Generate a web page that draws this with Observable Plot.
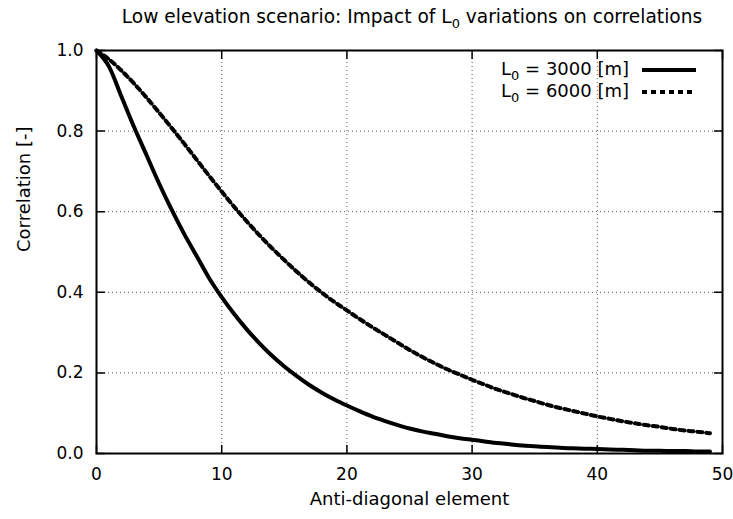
<!DOCTYPE html>
<html>
<head>
<meta charset="utf-8">
<script src="https://cdn.jsdelivr.net/npm/d3@7"></script>
<script src="https://cdn.jsdelivr.net/npm/@observablehq/plot@0.6"></script>
<style>
  html, body { margin: 0; padding: 0; background: #fff; }
  #chart svg { display: block; }
</style>
</head>
<body>
<div id="chart"></div>
<script>
const titleMain = "Low elevation scenario: Impact of L";
const titleSub = "0";
const titleRest = " variations on correlations";
const xLabel = "Anti-diagonal element";
const yLabel = "Correlation [-]";
const seriesNames = ["= 3000 [m]", "= 6000 [m]"];

const elements = [0,1,2,3,4,5,6,7,8,9,10,11,12,13,14,15,16,17,18,19,20,21,22,23,24,25,26,27,28,29,30,31,32,33,34,35,36,37,38,39,40,41,42,43,44,45,46,47,48,49];
const corrL3000 = [1.0,0.96,0.885,0.81,0.74,0.67,0.605,0.545,0.49,0.435,0.388,0.346,0.308,0.274,0.243,0.216,0.192,0.17,0.151,0.134,0.119,0.105,0.092,0.081,0.071,0.062,0.055,0.049,0.043,0.038,0.034,0.030,0.026,0.023,0.020,0.018,0.016,0.014,0.013,0.012,0.011,0.010,0.009,0.008,0.007,0.007,0.006,0.006,0.005,0.005];
const corrL6000 = [1.0,0.978,0.95,0.918,0.883,0.846,0.808,0.769,0.729,0.689,0.65,0.612,0.576,0.542,0.51,0.48,0.451,0.424,0.399,0.376,0.355,0.334,0.314,0.295,0.276,0.257,0.240,0.224,0.209,0.196,0.183,0.171,0.159,0.149,0.139,0.130,0.121,0.113,0.106,0.099,0.092,0.086,0.080,0.075,0.070,0.066,0.061,0.057,0.054,0.050];

const xTicks = [0,10,20,30,40,50];
const yTicks = [0,0.2,0.4,0.6,0.8,1.0];

const d3000 = elements.map((e,i) => ({x: e, y: corrL3000[i]}));
const d6000 = elements.map((e,i) => ({x: e, y: corrL6000[i]}));

const FONT = "DejaVu Sans";
const DASH = "5,4";
const LW = 4;
const tickShape = {draw(context, l) { context.moveTo(0, 0); context.lineTo(0, -l); }};

const chart = Plot.plot({
  width: 733,
  height: 519,
  marginLeft: 96,
  marginRight: 11,
  marginTop: 50,
  marginBottom: 66,
  style: {fontFamily: FONT, fontSize: "17px", color: "#000", background: "#fff"},
  x: {domain: [0, 50]},
  y: {domain: [0, 1]},
  marks: [
    Plot.gridX(xTicks.slice(1, -1), {stroke: "#555", strokeOpacity: 1, strokeDasharray: "1,3"}),
    Plot.gridY(yTicks.slice(1, -1), {stroke: "#555", strokeOpacity: 1, strokeDasharray: "1,3"}),
    Plot.axisX(xTicks, {anchor: "bottom", tickSize: 0, tickPadding: 14, tickFormat: d => String(d), label: null, fontSize: 17}),
    Plot.axisY(yTicks, {anchor: "left", tickSize: 0, tickPadding: 13, tickFormat: d3.format(".1f"), label: null, fontSize: 17}),
    // inward tick marks on all four sides
    Plot.vector(xTicks, {x: d => d, y: 0, length: 8, rotate: 0, anchor: "start", shape: tickShape, stroke: "#000", strokeWidth: 1.5}),
    Plot.vector(xTicks, {x: d => d, y: 1, length: 8, rotate: 180, anchor: "start", shape: tickShape, stroke: "#000", strokeWidth: 1.5}),
    Plot.vector(yTicks, {x: 0, y: d => d, length: 8, rotate: 90, anchor: "start", shape: tickShape, stroke: "#000", strokeWidth: 1.5}),
    Plot.vector(yTicks, {x: 50, y: d => d, length: 8, rotate: -90, anchor: "start", shape: tickShape, stroke: "#000", strokeWidth: 1.5}),
    Plot.text([xLabel], {frameAnchor: "bottom", dy: 51.5, text: d => d, fontSize: 18, fill: "#000"}),
    Plot.text([yLabel], {frameAnchor: "left", dx: -79, rotate: -90, lineAnchor: "top", text: d => d, fontSize: 18, fill: "#000"}),
    Plot.line(d3000, {x: "x", y: "y", stroke: "#000", strokeWidth: LW, curve: "monotone-x"}),
    Plot.line(d6000, {x: "x", y: "y", stroke: "#000", strokeWidth: LW, strokeDasharray: DASH, curve: "monotone-x"}),
    Plot.frame({stroke: "#000", strokeWidth: 2})
  ]
});

document.getElementById("chart").appendChild(chart);

// Title and legend with subscripts
const svg = d3.select(chart);
svg.selectAll("text").attr("fill", "#000");
const title = svg.append("text")
  .attr("x", 412).attr("y", 23)
  .attr("text-anchor", "middle")
  .attr("font-family", FONT).attr("font-size", 18.6).attr("fill", "#000");
title.append("tspan").text(titleMain);
title.append("tspan").attr("font-size", 13).attr("dy", 5).text(titleSub);
title.append("tspan").attr("dy", -5).text(titleRest);

const legendRows = [
  {name: seriesNames[0], dash: null, ty: 75},
  {name: seriesNames[1], dash: DASH, ty: 97}
];
legendRows.forEach(r => {
  const t = svg.append("text")
    .attr("x", 629).attr("y", r.ty)
    .attr("text-anchor", "end")
    .attr("font-family", FONT).attr("font-size", 18).attr("fill", "#000");
  t.append("tspan").text("L");
  t.append("tspan").attr("font-size", 13).attr("dy", 5).text("0");
  t.append("tspan").attr("dy", -5).text(" " + r.name);
  const ln = svg.append("line")
    .attr("x1", 642).attr("x2", 696)
    .attr("y1", r.ty - 5).attr("y2", r.ty - 5)
    .attr("stroke", "#000").attr("stroke-width", LW);
  if (r.dash) ln.attr("stroke-dasharray", r.dash);
});
</script>
</body>
</html>
